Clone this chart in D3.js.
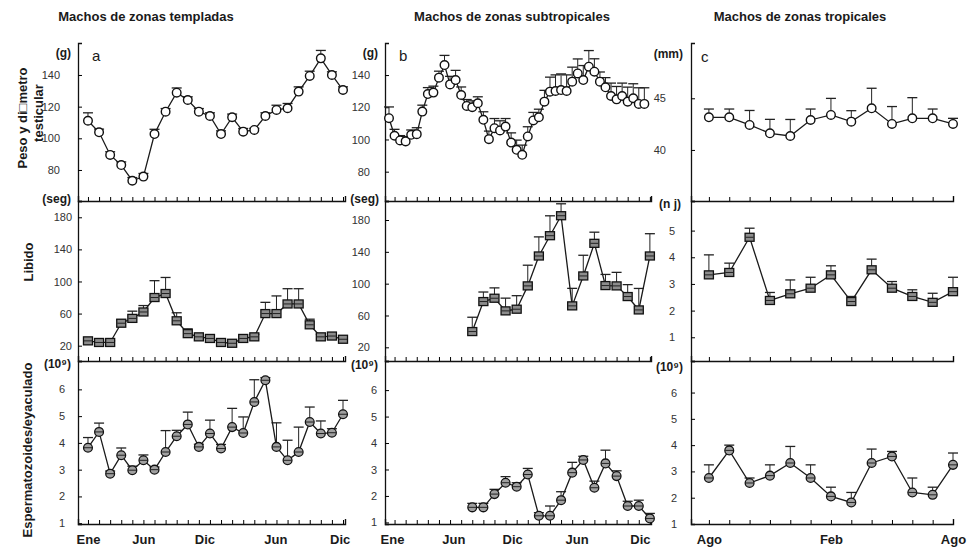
<!DOCTYPE html>
<html>
<head>
<meta charset="utf-8">
<script src="https://cdn.jsdelivr.net/npm/d3@7"></script>
<style>
body { margin: 0; background: #fff; }
text { font-family: "Liberation Sans", Arial, sans-serif; fill: #1a1a1a; }
.tick text { font-size: 11px; fill: #333; }
</style>
</head>
<body>
<div id="chart"></div>
<script>
// ---- data ----
var titles = ["Machos de zonas templadas", "Machos de zonas subtropicales", "Machos de zonas tropicales"];
var letters = ["a", "b", "c"];

// column a: monthly, two years (Ene..Dic, Ene..Dic)
var monthsA = d3.range(24);
var pesoA    = [111.1,103.8,89.5,83.1,73.2,75.8,102.7,116.8,128.8,124.2,116.8,114.1,102.7,113.3,104.2,105.3,114.1,117.9,119,129.5,139.4,150.5,140,130.5];
var pesoAErr = [5,2,2,2,2,2,3,2,3,2,2,2,2,2,2,1,2,3,3,3,3,5,2,2];
var libidoA    = [26,24,24,48,54,62,80,85,51,35,31,29,24,23,29,31,60,60,72,72,46,31,32,28];
var libidoAErr = [4,2,2,4,9,8,21,20,10,6,3,3,2,2,2,3,14,22,19,19,7,3,3,2];
var espA    = [3.82,4.41,2.85,3.54,2.98,3.35,3.0,3.66,4.25,4.69,3.85,4.35,3.79,4.59,4.37,5.53,6.34,3.85,3.35,3.66,4.78,4.35,4.38,5.07];
var espAErr = [0.38,0.33,0.1,0.27,0.15,0.2,0.1,0.8,0.22,0.46,0.1,0.5,0.15,0.7,0.6,0.83,0.1,0.9,0.75,0.93,0.56,0.47,0.15,0.52];

// column b: testis every half month, libido / sperm monthly from the first Ago
var monthsB1 = d3.range(47).map(function(i) { return i / 2; });
var pesoB    = [113.2,102.3,99.4,98.8,102.9,103.3,117.3,128.2,129.1,138.4,146.2,134.2,136.9,127.6,120.8,120,122.5,112.2,100.2,107,105.6,108,98.1,93.6,90.5,101.9,111.8,113.8,123.5,129.7,130.1,130.7,130.1,135.9,141,136.9,145.2,142.1,135.9,132.4,127,124.9,127,123.5,125.6,122.1,122.1];
var pesoBErr = [7,4,3,3,3,4,4,4,4,4,6,5,6,5,4,4,4,5,5,6,6,5,6,6,6,6,5,5,7,9,10,10,10,9,9,9,10,8,6,6,8,8,8,9,9,10,10];
var monthsB2 = d3.range(17).map(function(i) { return 7.5 + i; });
var libidoB    = [39.8,77.5,81.7,65.8,67.9,97.2,134.8,160.3,185.4,72.1,109.7,150.7,97.6,97.2,83.8,67,134.8];
var libidoBErr = [18,12,13,16,17,26,24,25,15,22,26,14,14,17,15,27,28];
var espB    = [1.57,1.57,2.07,2.5,2.35,2.81,1.25,1.25,1.84,2.88,3.36,2.31,3.23,2.75,1.62,1.62,1.15];
var espBErr = [0.15,0.15,0.18,0.23,0.15,0.23,0.12,0.37,0.32,0.39,0.14,0.25,0.5,0.2,0.18,0.22,0.19];

// column c: monthly, Ago..Ago
var monthsC = d3.range(13);
var pesoC    = [43.16,43.16,42.42,41.61,41.35,42.9,43.39,42.74,44.03,42.52,43.06,43.06,42.52];
var pesoCErr = [0.8,0.8,1.4,1.35,1.6,1.06,1.6,1.06,1.94,1.68,2.0,0.9,0.54];
var libidoC    = [3.34,3.43,4.75,2.38,2.63,2.84,3.34,2.34,3.53,2.84,2.53,2.31,2.71];
var libidoCErr = [0.75,0.35,0.34,0.3,0.52,0.41,0.34,0.19,0.4,0.25,0.25,0.34,0.54];
var espC    = [2.75,3.8,2.56,2.84,3.32,2.75,2.05,1.82,3.32,3.57,2.2,2.11,3.25];
var espCErr = [0.5,0.2,0.19,0.41,0.63,0.5,0.35,0.38,0.53,0.19,0.55,0.29,0.45];

// x tick labels (month positions) per column
var xLabelsA = ["Ene", "Jun", "Dic", "Jun", "Dic"];
var xLabelPosA = [0, 5, 10.5, 16.9, 22.7];
var xLabelsB = ["Ene", "Jun", "Dic", "Jun", "Dic"];
var xLabelPosB = [0.27, 5.8, 11.1, 16.9, 22.6];
var xLabelsC = ["Ago", "Feb", "Ago"];
var xLabelPosC = [0, 6, 12];

var xTicksA = d3.range(24);
var xTicksB = d3.range(24).map(function(i) { return i + 0.5; });
var xTicksC = d3.range(13);

// y ticks per row
var yTicksPeso = [80, 100, 120, 140];
var yTicksDiam = [40, 45];
var yTicksLib = [20, 60, 100, 140, 180];
var yTicksMont = [1, 2, 3, 4, 5];
var yTicksEsp = [1, 2, 3, 4, 5, 6];

// ---- layout ----
var W = 971, H = 551;
var cols = [
  { x0: 78,  x1: 345, dom: [-0.9, 23.18], ticks: xTicksA, labels: xLabelsA, labelPos: xLabelPosA },
  { x0: 385, x1: 651, dom: [-0.36, 23.6], ticks: xTicksB, labels: xLabelsB, labelPos: xLabelPosB },
  { x0: 691, x1: 953, dom: [-0.88, 12],   ticks: xTicksC, labels: xLabelsC, labelPos: xLabelPosC }
];
var rows = [ { y0: 43, y1: 201 }, { y0: 201, y1: 361 }, { y0: 361, y1: 524 } ];

var panels = [
  { c: 0, r: 0, x: monthsA,  y: pesoA,   e: pesoAErr,   dom: [60.4, 160.2], yt: yTicksPeso, pad: 18, mark: "open" },
  { c: 0, r: 1, x: monthsA,  y: libidoA, e: libidoAErr, dom: [0.9, 200.3],  yt: yTicksLib,  pad: 6,  mark: "square" },
  { c: 0, r: 2, x: monthsA,  y: espA,    e: espAErr,    dom: [0.97, 7.06],  yt: yTicksEsp,  pad: 13, mark: "grey" },
  { c: 1, r: 0, x: monthsB1, y: pesoB,   e: pesoBErr,   dom: [61.8, 159.9], yt: yTicksPeso, pad: 15, mark: "open" },
  { c: 1, r: 1, x: monthsB2, y: libidoB, e: libidoBErr, dom: [2.8, 203.9],  yt: yTicksLib,  pad: 15, mark: "square" },
  { c: 1, r: 2, x: monthsB2, y: espB,    e: espBErr,    dom: [0.94, 7.1],   yt: yTicksEsp,  pad: 8,  mark: "grey" },
  { c: 2, r: 0, x: monthsC,  y: pesoC,   e: pesoCErr,   dom: [35.06, 50.35], yt: yTicksDiam, pad: 25, mark: "open" },
  { c: 2, r: 1, x: monthsC,  y: libidoC, e: libidoCErr, dom: [0.11, 6.11],  yt: yTicksMont, pad: 16, mark: "square" },
  { c: 2, r: 2, x: monthsC,  y: espC,    e: espCErr,    dom: [1.0, 7.2],    yt: yTicksEsp,  pad: 14, mark: "grey" }
];

var svg = d3.select("#chart").append("svg")
  .attr("width", W).attr("height", H);

// column titles
var titleX = [146, 512, 800];
titles.forEach(function(t, i) {
  svg.append("text").attr("x", titleX[i]).attr("y", 21)
    .attr("text-anchor", "middle").style("font-size", "13px").style("font-weight", "bold")
    .text(t);
});

// axes lines + ticks for each panel
panels.forEach(function(p) {
  var col = cols[p.c], row = rows[p.r];
  var x = d3.scaleLinear().domain(col.dom).range([col.x0, col.x1]);
  var y = d3.scaleLinear().domain(p.dom).range([row.y1, row.y0]);

  // y axis, ticks pointing inward
  svg.append("g")
    .attr("transform", "translate(" + col.x0 + ",0)")
    .call(d3.axisLeft(y).tickValues(p.yt).tickFormat(d3.format("d"))
      .tickSize(-4).tickSizeOuter(-4).tickPadding(p.pad))
    .call(function(g) { g.select(".domain").attr("stroke", "#111").attr("stroke-width", 1.3); });

  // x axis line at the bottom of the panel, ticks pointing up
  svg.append("g")
    .attr("transform", "translate(0," + row.y1 + ")")
    .call(d3.axisBottom(x).tickValues(col.ticks).tickSize(-4).tickSizeOuter(-5).tickFormat(""))
    .call(function(g) { g.select(".domain").attr("stroke", "#111").attr("stroke-width", 1.4); });

  if (p.r === 2) {
    svg.append("g")
      .attr("transform", "translate(0," + row.y1 + ")")
      .call(d3.axisBottom(x).tickValues(col.labelPos).tickSize(0).tickPadding(11)
        .tickFormat(function(d, i) { return col.labels[i]; }))
      .call(function(g) {
        g.select(".domain").remove();
        g.selectAll("text").style("font-size", "13px").style("font-weight", "bold").style("fill", "#1a1a1a");
      });
  }

  var pts = p.x.map(function(m, i) { return { m: m, v: p.y[i], e: p.e[i] }; });

  // error bars (upper)
  var eb = svg.append("g").attr("stroke", "#222").attr("stroke-width", 1);
  eb.selectAll("line.v").data(pts).enter().append("line")
    .attr("x1", function(d) { return x(d.m); }).attr("x2", function(d) { return x(d.m); })
    .attr("y1", function(d) { return y(d.v); }).attr("y2", function(d) { return y(d.v + d.e); });
  eb.selectAll("line.c").data(pts).enter().append("line")
    .attr("x1", function(d) { return x(d.m) - 5; }).attr("x2", function(d) { return x(d.m) + 5; })
    .attr("y1", function(d) { return y(d.v + d.e); }).attr("y2", function(d) { return y(d.v + d.e); })
    .attr("stroke-width", 1.3);

  // connecting line
  svg.append("path").datum(pts)
    .attr("fill", "none").attr("stroke", "#1a1a1a").attr("stroke-width", 1.3)
    .attr("d", d3.line().x(function(d) { return x(d.m); }).y(function(d) { return y(d.v); }));

  // markers
  var mk = svg.append("g");
  if (p.mark === "open") {
    mk.selectAll("circle").data(pts).enter().append("circle")
      .attr("cx", function(d) { return x(d.m); }).attr("cy", function(d) { return y(d.v); })
      .attr("r", 4.3).attr("fill", "#fff").attr("stroke", "#111").attr("stroke-width", 1.4);
  } else if (p.mark === "square") {
    mk.selectAll("rect").data(pts).enter().append("rect")
      .attr("x", function(d) { return x(d.m) - 4.5; }).attr("y", function(d) { return y(d.v) - 4; })
      .attr("width", 9).attr("height", 8)
      .attr("fill", "#8c8c8c").attr("stroke", "#111").attr("stroke-width", 1.3);
    mk.selectAll("line").data(pts).enter().append("line")
      .attr("x1", function(d) { return x(d.m) - 4; }).attr("x2", function(d) { return x(d.m) + 4; })
      .attr("y1", function(d) { return y(d.v); }).attr("y2", function(d) { return y(d.v); })
      .attr("stroke", "#222").attr("stroke-width", 1);
  } else {
    mk.selectAll("circle").data(pts).enter().append("circle")
      .attr("cx", function(d) { return x(d.m); }).attr("cy", function(d) { return y(d.v); })
      .attr("r", 4.4).attr("fill", "#a0a0a0").attr("stroke", "#111").attr("stroke-width", 1.3);
    mk.selectAll("line").data(pts).enter().append("line")
      .attr("x1", function(d) { return x(d.m) - 4; }).attr("x2", function(d) { return x(d.m) + 4; })
      .attr("y1", function(d) { return y(d.v); }).attr("y2", function(d) { return y(d.v); })
      .attr("stroke", "#222").attr("stroke-width", 1);
  }
});

// panel letters
var letterPos = [[92, 61], [399, 61], [701, 62]];
letters.forEach(function(l, i) {
  svg.append("text").attr("x", letterPos[i][0]).attr("y", letterPos[i][1])
    .style("font-size", "15px").text(l);
});

// unit labels
var units = [
  ["(g)", 71, 57], ["(seg)", 71, 203], ["(10\u2079)", 71, 368],
  ["(g)", 378, 57], ["(seg)", 379, 203], ["(10\u2079)", 378, 369],
  ["(mm)", 683, 58], ["(n j)", 681, 208], ["(10\u2079)", 683, 371]
];
units.forEach(function(u) {
  svg.append("text").attr("x", u[1]).attr("y", u[2]).attr("text-anchor", "end")
    .style("font-size", "12px").style("font-weight", "bold").text(u[0]);
});

// rotated row titles
function vtext(txt, x, y) {
  svg.append("text").attr("transform", "translate(" + x + "," + y + ") rotate(-90)")
    .attr("text-anchor", "middle").style("font-size", "13px").style("font-weight", "bold")
    .text(txt);
}
vtext("Peso y di\u25A1metro", 27, 118);
vtext("testicular", 43, 113);
vtext("Libido", 33, 262);
vtext("Espermatozoides/eyaculado", 32, 450);
</script>
</body>
</html>
